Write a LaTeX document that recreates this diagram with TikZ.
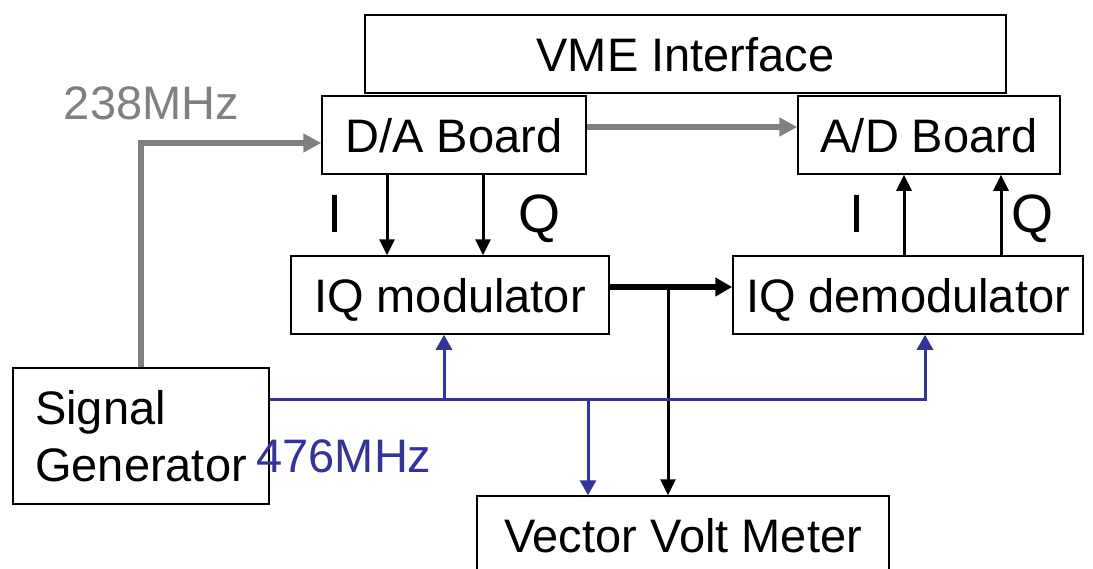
\documentclass[tikz,border=0pt]{standalone}
\usepackage{fontspec}
\setmainfont{Liberation Sans}
\usetikzlibrary{arrows.meta}

\definecolor{loblue}{RGB}{51,51,153}
\definecolor{clkgrey}{RGB}{128,128,128}

\begin{document}
\begin{tikzpicture}[x=1pt, y=-1pt,
    boxbase/.style={draw, line width=1.5pt, inner sep=0pt, font=\fontsize{47}{57}\selectfont},
    box/.style={boxbase, minimum height=78pt, text height=34pt, text depth=0pt},
    lbl/.style={inner sep=0pt, font=\fontsize{47}{57}\selectfont, text height=34pt, text depth=0pt},
    iq/.style={inner sep=0pt, anchor=base, font=\fontsize{54}{60}\selectfont},
    data/.style={line width=3pt, -{Triangle[length=16pt,width=15pt]}},
    rf/.style={line width=6pt, -{Triangle[length=17pt,width=18pt]}},
    lo/.style={loblue, line width=3pt, -{Triangle[length=15pt,width=16pt]}},
    clk/.style={clkgrey, line width=6pt, -{Triangle[length=18pt,width=18pt]}}]
    \useasboundingbox (0,0) rectangle (1093,568);
    \clip (0,0) rectangle (1093,568);

    % Boxes
    \node[box, minimum width=641pt] (vme) at (685.5,54) {VME Interface};
    \node[box, minimum width=264pt] (da) at (454,135) {D/A Board};
    \node[box, minimum width=262pt] (ad) at (929,135) {A/D Board};
    \node[box, minimum width=318pt] (mod) at (450,295) {IQ modulator};
    \node[box, minimum width=350pt] (demod) at (908,295) {IQ demodulator};
    \node[boxbase, minimum width=256pt, minimum height=136pt, align=left] (sig) at (141,436) {Signal\\Generator};
    \node[box, minimum width=412pt] (vvm) at (683,535) {Vector Volt Meter};

    % Frequency labels
    \node[lbl, clkgrey] (f238) at (151.5,102) {238MHz};
    \node[lbl, loblue] (f476) at (344,455) {476MHz};

    % 238MHz clock
    \draw[clk] (sig.north) |- ([yshift=-8pt]da.west);
    \draw[clk] ([yshift=8pt]da.east) -- ([yshift=8pt]ad.west);

    % I and Q
    \draw[data] (da.south -| 387,0) -- (mod.north -| 387,0);
    \draw[data] (da.south -| 483,0) -- (mod.north -| 483,0);
    \draw[data] (demod.north -| 904,0) -- (ad.south -| 904,0);
    \draw[data] (demod.north -| 1001,0) -- (ad.south -| 1001,0);
    \node[iq] (imod) at (335,232) {I};
    \node[iq] (qmod) at (539,232) {Q};
    \node[iq] (idem) at (857,232) {I};
    \node[iq] (qdem) at (1032,232) {Q};

    % RF path
    \coordinate (tap) at (668,287);
    \draw[rf] ([yshift=8pt]mod.east) -- ([yshift=8pt]demod.west);
    \draw[data] (tap) -- (tap |- vvm.north);

    % 476MHz LO
    \coordinate (loA) at (444,399);
    \coordinate (loB) at (588,399);
    \draw[lo] ([yshift=37pt]sig.east) -| (demod.south -| 925,0);
    \draw[lo] (loA) -- (loA |- mod.south);
    \draw[lo] (loB) -- (loB |- vvm.north);
\end{tikzpicture}
\end{document}
